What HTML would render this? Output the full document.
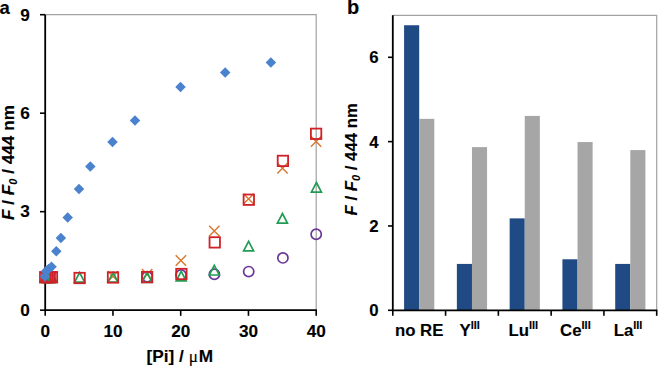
<!DOCTYPE html>
<html><head><meta charset="utf-8"><style>
html,body{margin:0;padding:0;background:#fff;}
body{width:658px;height:366px;overflow:hidden;}
svg{display:block;font-family:"Liberation Sans",sans-serif;font-weight:bold;}
text{stroke:#000;stroke-width:0.12px;}
</style></head><body>
<svg width="658" height="366" viewBox="0 0 658 366">
<path d="M45.2 14.7H316.2V310.15" fill="none" stroke="#A2A2A2" stroke-width="1.2"/>
<path d="M392.8 15.3H656.7V310.3" fill="none" stroke="#A2A2A2" stroke-width="1.2"/>
<path d="M45.2 14.7V310.15H316.8" fill="none" stroke="#000" stroke-width="1.8"/>
<path d="M40 310.15H45.2" stroke="#000" stroke-width="1.6"/>
<path d="M40 211.67H45.2" stroke="#000" stroke-width="1.6"/>
<path d="M40 113.18H45.2" stroke="#000" stroke-width="1.6"/>
<path d="M40 14.70H45.2" stroke="#000" stroke-width="1.6"/>
<path d="M45.20 310.15V315.8" stroke="#000" stroke-width="1.6"/>
<path d="M112.95 310.15V315.8" stroke="#000" stroke-width="1.6"/>
<path d="M180.70 310.15V315.8" stroke="#000" stroke-width="1.6"/>
<path d="M248.45 310.15V315.8" stroke="#000" stroke-width="1.6"/>
<path d="M316.20 310.15V315.8" stroke="#000" stroke-width="1.6"/>
<circle cx="316.20" cy="234.30" r="5.1" fill="none" stroke="#6A3599" stroke-width="1.7"/>
<circle cx="282.90" cy="257.90" r="5.1" fill="none" stroke="#6A3599" stroke-width="1.7"/>
<circle cx="248.70" cy="271.60" r="5.1" fill="none" stroke="#6A3599" stroke-width="1.7"/>
<circle cx="214.40" cy="274.20" r="5.1" fill="none" stroke="#6A3599" stroke-width="1.7"/>
<circle cx="181.00" cy="275.00" r="5.1" fill="none" stroke="#6A3599" stroke-width="1.7"/>
<circle cx="147.20" cy="276.80" r="5.1" fill="none" stroke="#6A3599" stroke-width="1.7"/>
<path d="M310.90 136.30L321.30 146.70M321.30 136.30L310.90 146.70" stroke="#DA772F" stroke-width="1.45"/>
<path d="M277.30 163.10L287.70 173.50M287.70 163.10L277.30 173.50" stroke="#DA772F" stroke-width="1.45"/>
<path d="M243.40 193.70L253.80 204.10M253.80 193.70L243.40 204.10" stroke="#DA772F" stroke-width="1.45"/>
<path d="M209.10 225.80L219.50 236.20M219.50 225.80L209.10 236.20" stroke="#DA772F" stroke-width="1.45"/>
<path d="M175.70 255.30L186.10 265.70M186.10 255.30L175.70 265.70" stroke="#DA772F" stroke-width="1.45"/>
<path d="M141.90 269.00L152.30 279.40M152.30 269.00L141.90 279.40" stroke="#DA772F" stroke-width="1.45"/>
<path d="M107.80 271.00L118.20 281.40M118.20 271.00L107.80 281.40" stroke="#DA772F" stroke-width="1.45"/>
<path d="M40.00 271.80L50.40 282.20M50.40 271.80L40.00 282.20" stroke="#DA772F" stroke-width="1.45"/>
<path d="M42.26 271.80L52.66 282.20M52.66 271.80L42.26 282.20" stroke="#DA772F" stroke-width="1.45"/>
<path d="M44.52 271.80L54.92 282.20M54.92 271.80L44.52 282.20" stroke="#DA772F" stroke-width="1.45"/>
<path d="M46.77 271.80L57.18 282.20M57.18 271.80L46.77 282.20" stroke="#DA772F" stroke-width="1.45"/>
<path d="M316.40 182.50L321.40 192.10H311.40Z" fill="none" stroke="#229C53" stroke-width="1.7"/>
<path d="M282.40 213.50L287.40 223.10H277.40Z" fill="none" stroke="#229C53" stroke-width="1.7"/>
<path d="M248.60 241.30L253.60 250.90H243.60Z" fill="none" stroke="#229C53" stroke-width="1.7"/>
<path d="M214.30 265.40L219.30 275.00H209.30Z" fill="none" stroke="#229C53" stroke-width="1.7"/>
<path d="M181.20 271.30L186.20 280.90H176.20Z" fill="none" stroke="#229C53" stroke-width="1.7"/>
<path d="M147.10 272.70L152.10 282.30H142.10Z" fill="none" stroke="#229C53" stroke-width="1.7"/>
<path d="M113.00 272.50L118.00 282.10H108.00Z" fill="none" stroke="#229C53" stroke-width="1.7"/>
<path d="M79.60 272.50L84.60 282.10H74.60Z" fill="none" stroke="#229C53" stroke-width="1.7"/>
<path d="M45.20 272.70L50.20 282.30H40.20Z" fill="none" stroke="#229C53" stroke-width="1.7"/>
<path d="M47.46 272.70L52.46 282.30H42.46Z" fill="none" stroke="#229C53" stroke-width="1.7"/>
<path d="M49.72 272.70L54.72 282.30H44.72Z" fill="none" stroke="#229C53" stroke-width="1.7"/>
<path d="M51.98 272.70L56.98 282.30H46.98Z" fill="none" stroke="#229C53" stroke-width="1.7"/>
<rect x="310.90" y="128.60" width="10.4" height="10.4" fill="none" stroke="#CF2128" stroke-width="1.8"/>
<rect x="277.70" y="155.70" width="10.4" height="10.4" fill="none" stroke="#CF2128" stroke-width="1.8"/>
<rect x="243.60" y="194.50" width="10.4" height="10.4" fill="none" stroke="#CF2128" stroke-width="1.8"/>
<rect x="209.55" y="237.20" width="10.4" height="10.4" fill="none" stroke="#CF2128" stroke-width="1.8"/>
<rect x="176.20" y="268.80" width="10.4" height="10.4" fill="none" stroke="#CF2128" stroke-width="1.8"/>
<rect x="141.90" y="271.90" width="10.4" height="10.4" fill="none" stroke="#CF2128" stroke-width="1.8"/>
<rect x="107.80" y="272.30" width="10.4" height="10.4" fill="none" stroke="#CF2128" stroke-width="1.8"/>
<rect x="74.40" y="272.80" width="10.4" height="10.4" fill="none" stroke="#CF2128" stroke-width="1.8"/>
<rect x="40.00" y="272.00" width="10.4" height="10.4" fill="none" stroke="#CF2128" stroke-width="1.8"/>
<rect x="42.26" y="272.00" width="10.4" height="10.4" fill="none" stroke="#CF2128" stroke-width="1.8"/>
<rect x="44.52" y="272.00" width="10.4" height="10.4" fill="none" stroke="#CF2128" stroke-width="1.8"/>
<rect x="46.77" y="272.00" width="10.4" height="10.4" fill="none" stroke="#CF2128" stroke-width="1.8"/>
<path d="M270.90 57.15L276.15 62.40L270.90 67.65L265.65 62.40Z" fill="#4A82CE"/>
<path d="M225.20 67.25L230.45 72.50L225.20 77.75L219.95 72.50Z" fill="#4A82CE"/>
<path d="M180.50 81.85L185.75 87.10L180.50 92.35L175.25 87.10Z" fill="#4A82CE"/>
<path d="M135.00 115.25L140.25 120.50L135.00 125.75L129.75 120.50Z" fill="#4A82CE"/>
<path d="M112.50 136.75L117.75 142.00L112.50 147.25L107.25 142.00Z" fill="#4A82CE"/>
<path d="M90.30 161.15L95.55 166.40L90.30 171.65L85.05 166.40Z" fill="#4A82CE"/>
<path d="M79.00 183.75L84.25 189.00L79.00 194.25L73.75 189.00Z" fill="#4A82CE"/>
<path d="M67.70 212.35L72.95 217.60L67.70 222.85L62.45 217.60Z" fill="#4A82CE"/>
<path d="M60.90 232.75L66.15 238.00L60.90 243.25L55.65 238.00Z" fill="#4A82CE"/>
<path d="M56.30 246.05L61.55 251.30L56.30 256.55L51.05 251.30Z" fill="#4A82CE"/>
<path d="M51.50 261.45L56.75 266.70L51.50 271.95L46.25 266.70Z" fill="#4A82CE"/>
<path d="M48.60 263.75L53.85 269.00L48.60 274.25L43.35 269.00Z" fill="#4A82CE"/>
<path d="M46.00 265.95L51.25 271.20L46.00 276.45L40.75 271.20Z" fill="#4A82CE"/>
<path d="M45.00 271.35L50.25 276.60L45.00 281.85L39.75 276.60Z" fill="#4A82CE"/>
<rect x="404.09" y="25.25" width="15.1" height="285.05" fill="#1F4A84"/>
<rect x="419.19" y="118.86" width="15.1" height="191.44" fill="#A6A6A6"/>
<rect x="456.87" y="263.92" width="15.1" height="46.38" fill="#1F4A84"/>
<rect x="471.97" y="147.12" width="15.1" height="163.19" fill="#A6A6A6"/>
<rect x="509.65" y="218.38" width="15.1" height="91.92" fill="#1F4A84"/>
<rect x="524.75" y="115.91" width="15.1" height="194.39" fill="#A6A6A6"/>
<rect x="562.43" y="259.28" width="15.1" height="51.02" fill="#1F4A84"/>
<rect x="577.53" y="142.06" width="15.1" height="168.25" fill="#A6A6A6"/>
<rect x="615.21" y="263.92" width="15.1" height="46.38" fill="#1F4A84"/>
<rect x="630.31" y="150.07" width="15.1" height="160.23" fill="#A6A6A6"/>
<path d="M392.8 15.3V310.3H657.3000000000001" fill="none" stroke="#000" stroke-width="1.8"/>
<path d="M388 310.30H392.8" stroke="#000" stroke-width="1.6"/>
<path d="M388 225.97H392.8" stroke="#000" stroke-width="1.6"/>
<path d="M388 141.63H392.8" stroke="#000" stroke-width="1.6"/>
<path d="M388 57.30H392.8" stroke="#000" stroke-width="1.6"/>
<path d="M392.80 310.3V315.8" stroke="#000" stroke-width="1.6"/>
<path d="M445.58 310.3V315.8" stroke="#000" stroke-width="1.6"/>
<path d="M498.36 310.3V315.8" stroke="#000" stroke-width="1.6"/>
<path d="M551.14 310.3V315.8" stroke="#000" stroke-width="1.6"/>
<path d="M603.92 310.3V315.8" stroke="#000" stroke-width="1.6"/>
<path d="M656.70 310.3V315.8" stroke="#000" stroke-width="1.6"/>
<text x="-0.60" y="13.50" text-anchor="start" font-size="18.5" >a</text>
<text x="347.00" y="13.70" text-anchor="start" font-size="20" >b</text>
<text x="29.80" y="315.95" text-anchor="end" font-size="17.2" >0</text>
<text x="29.80" y="217.47" text-anchor="end" font-size="17.2" >3</text>
<text x="29.80" y="118.98" text-anchor="end" font-size="17.2" >6</text>
<text x="29.80" y="20.50" text-anchor="end" font-size="17.2" >9</text>
<text x="45.20" y="336.80" text-anchor="middle" font-size="17.2" >0</text>
<text x="112.95" y="336.80" text-anchor="middle" font-size="17.2" >10</text>
<text x="180.70" y="336.80" text-anchor="middle" font-size="17.2" >20</text>
<text x="248.45" y="336.80" text-anchor="middle" font-size="17.2" >30</text>
<text x="316.20" y="336.80" text-anchor="middle" font-size="17.2" >40</text>
<text x="378.50" y="316.40" text-anchor="end" font-size="16.8" >0</text>
<text x="378.50" y="232.07" text-anchor="end" font-size="16.8" >2</text>
<text x="378.50" y="147.73" text-anchor="end" font-size="16.8" >4</text>
<text x="378.50" y="63.40" text-anchor="end" font-size="16.8" >6</text>
<text x="179.80" y="362.00" text-anchor="middle" font-size="17.2" >[Pi] / <tspan font-weight="normal" font-family="Liberation Serif">&#956;</tspan><tspan dx="0.8">M</tspan></text>
<text x="419.19" y="335.70" text-anchor="middle" font-size="16.8" >no RE</text>
<text x="469.67" y="335.70" text-anchor="middle" font-size="16.8" >Y<tspan font-size="11" dy="-6.3">III</tspan></text>
<text x="523.25" y="335.70" text-anchor="middle" font-size="16.8" >Lu<tspan font-size="11" dy="-6.3">III</tspan></text>
<text x="575.43" y="335.70" text-anchor="middle" font-size="16.8" >Ce<tspan font-size="11" dy="-6.3">III</tspan></text>
<text x="628.01" y="335.70" text-anchor="middle" font-size="16.8" >La<tspan font-size="11" dy="-6.3">III</tspan></text>
<text transform="translate(13.5 162.6) rotate(-90)" text-anchor="middle" font-size="17.2"><tspan font-style="italic">F</tspan> / <tspan font-style="italic">F<tspan font-size="11" dy="3">0</tspan></tspan><tspan dy="-3"> / 444 nm</tspan></text>
<text transform="translate(357 159.3) rotate(-90)" text-anchor="middle" font-size="16.8"><tspan font-style="italic">F</tspan> / <tspan font-style="italic">F<tspan font-size="11" dy="3">0</tspan></tspan><tspan dy="-3"> / 444 nm</tspan></text>
</svg></body></html>
